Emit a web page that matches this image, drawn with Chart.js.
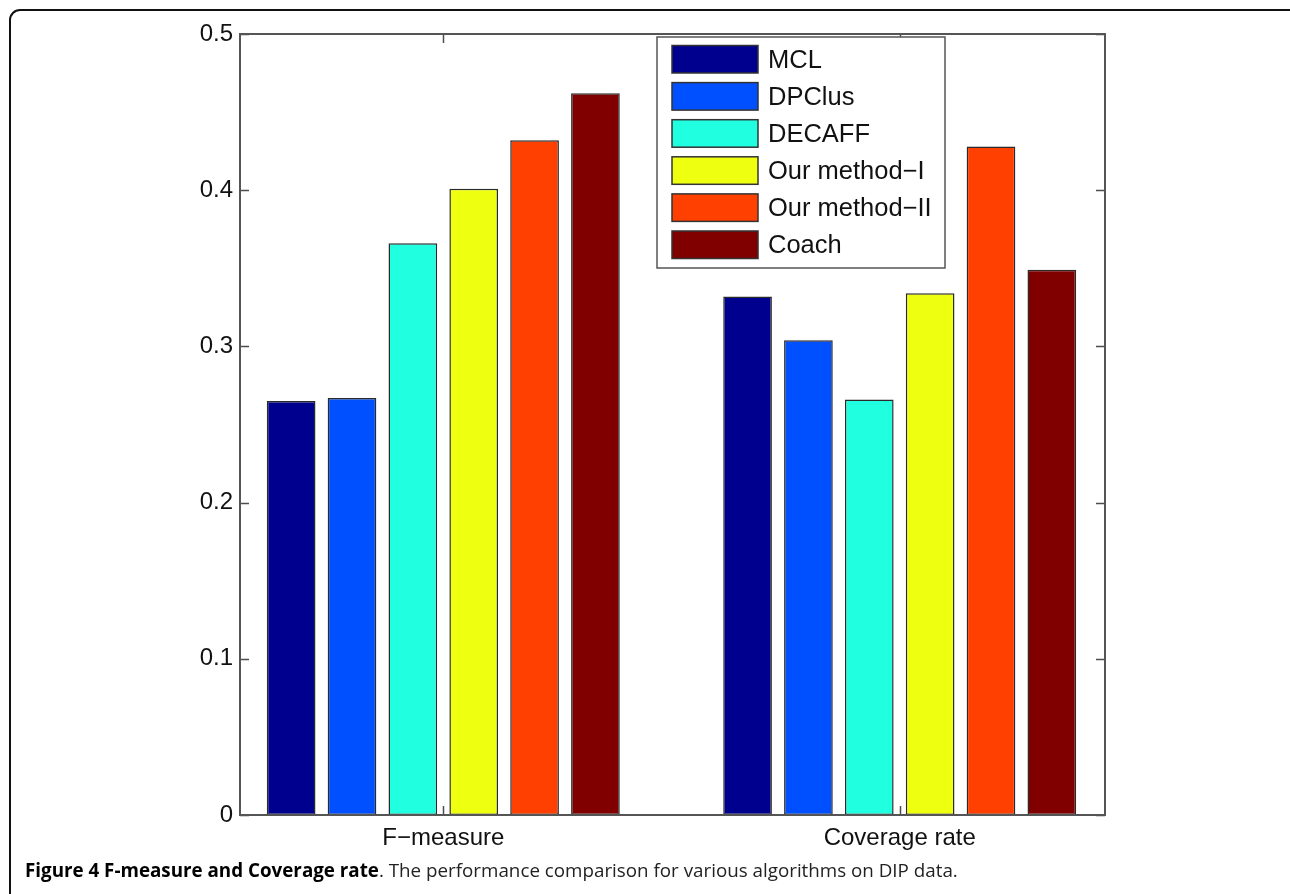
<!DOCTYPE html>
<html>
<head>
<meta charset="utf-8">
<script src="https://cdn.jsdelivr.net/npm/chart.js@4.4.1/dist/chart.umd.min.js"></script>
<style>
  html, body { margin: 0; padding: 0; background: #fff; width: 1290px; height: 894px; overflow: hidden; }
  #wrap { position: absolute; left: 0; top: 0; width: 1290px; height: 894px; }
  #frame { position: absolute; left: 9px; top: 9px; width: 1300px; height: 1000px; border: 2px solid #111; border-radius: 11px; box-sizing: border-box; }
  #c { position: absolute; left: 0; top: 0; }
  #caption { position: absolute; left: 25px; top: 857px; font-family: "Open Sans", sans-serif; font-size: 18.8px; line-height: 26px; color: #222; white-space: nowrap; }
  #caption b { font-weight: 700; color: #000; }
</style>
</head>
<body>
<div id="wrap">
  <div id="frame"></div>
  <canvas id="c" width="1290" height="894"></canvas>
  <div id="caption"><b>Figure 4 F-measure and Coverage rate</b>. The performance comparison for various algorithms on DIP data.</div>
</div>
<script>
// ---- data ----
const categories = ['F\u2212measure', 'Coverage rate'];
const methods = ['MCL', 'DPClus', 'DECAFF', 'Our method\u2212I', 'Our method\u2212II', 'Coach'];
const fMeasure = [0.265, 0.267, 0.366, 0.401, 0.432, 0.462];
const coverageRate = [0.332, 0.304, 0.266, 0.334, 0.428, 0.349];
const yTicks = [0, 0.1, 0.2, 0.3, 0.4, 0.5];
const colors = ['#00008F', '#0050FF', '#20FFDF', '#EFFF10', '#FF4000', '#800000'];

const seriesByCategory = [fMeasure, coverageRate];
const datasets = methods.map((m, i) => ({
  label: m,
  data: seriesByCategory.map((arr, j) => ({ x: j + 1, y: arr[i] })),
  backgroundColor: colors[i],
  borderColor: '#2a2a2a',
  borderWidth: 1.5,
  borderSkipped: false,
  categoryPercentage: 0.8,
  barPercentage: 0.8
}));

const FONT = '"Liberation Sans", Arial, Helvetica, sans-serif';

const boxPlugin = {
  id: 'matlabBox',
  afterDatasetsDraw(chart) {
    const ctx = chart.ctx;
    const a = chart.chartArea;
    const xs = chart.scales.x, ys = chart.scales.y;
    ctx.save();
    ctx.strokeStyle = '#4d4d4d';
    ctx.lineWidth = 1.5;
    // inward ticks
    ctx.beginPath();
    ys.ticks.forEach(t => {
      const p = Math.round(ys.getPixelForValue(t.value)) + 0.5;
      ctx.moveTo(a.left, p); ctx.lineTo(a.left + 9, p);
      ctx.moveTo(a.right, p); ctx.lineTo(a.right - 9, p);
    });
    xs.ticks.forEach(t => {
      const p = Math.round(xs.getPixelForValue(t.value)) + 0.5;
      ctx.moveTo(p, a.bottom); ctx.lineTo(p, a.bottom - 9);
      ctx.moveTo(p, a.top); ctx.lineTo(p, a.top + 9);
    });
    ctx.stroke();
    // box
    ctx.lineWidth = 2;
    ctx.strokeStyle = '#555';
    ctx.strokeRect(a.left, a.top, a.right - a.left, a.bottom - a.top);

    // legend
    const lx = a.left + 417, ly = a.top + 3, lw = 288, lh = 231;
    ctx.fillStyle = '#fff';
    ctx.fillRect(lx, ly, lw, lh);
    ctx.lineWidth = 1.5;
    ctx.strokeStyle = '#555';
    ctx.strokeRect(lx, ly, lw, lh);
    ctx.font = '25.5px ' + FONT;
    ctx.textBaseline = 'middle';
    ctx.textAlign = 'left';
    chart.data.datasets.forEach((ds, i) => {
      const sy = ly + 8.5 + i * 37.1;
      ctx.fillStyle = ds.backgroundColor;
      ctx.fillRect(lx + 15, sy, 86, 27.5);
      ctx.lineWidth = 1.5;
      ctx.strokeStyle = '#333';
      ctx.strokeRect(lx + 15, sy, 86, 27.5);
      ctx.fillStyle = '#111';
      ctx.fillText(ds.label, lx + 111, sy + 15);
    });
    ctx.restore();
  }
};

new Chart(document.getElementById('c'), {
  type: 'bar',
  data: { datasets },
  options: {
    responsive: false,
    animation: false,
    layout: { padding: { top: 34, right: 185, left: 0, bottom: 0 } },
    plugins: { legend: { display: false }, tooltip: { enabled: false } },
    scales: {
      x: {
        type: 'linear',
        min: 0.5546,
        max: 2.4498,
        offset: false,
        afterBuildTicks(scale) { scale.ticks = categories.map((c, i) => ({ value: i + 1 })); },
        afterFit(scale) { scale.height = 79; },
        grid: { display: false, drawTicks: false },
        border: { display: false },
        ticks: {
          autoSkip: false, maxRotation: 0, padding: 9, color: '#111',
          font: { family: FONT, size: 24 },
          callback: (v) => categories[Math.round(v) - 1] || ''
        }
      },
      y: {
        min: 0,
        max: 0.5,
        afterBuildTicks(scale) { scale.ticks = yTicks.map(v => ({ value: v })); },
        afterFit(scale) { scale.width = 240; },
        grid: { display: false, drawTicks: false },
        border: { display: false },
        ticks: {
          padding: 7, color: '#111',
          font: { family: FONT, size: 24 },
          callback: (v) => String(Math.round(v * 10) / 10)
        }
      }
    }
  },
  plugins: [boxPlugin]
});
</script>
</body>
</html>
